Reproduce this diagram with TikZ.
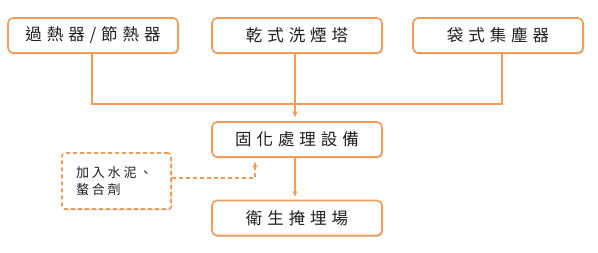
\documentclass[tikz,border=0pt]{standalone}
\usepackage{fontspec}
\newfontfamily\cjkbox[LetterSpace=30]{Noto Sans CJK TC}
\newfontfamily\cjknote[LetterSpace=22]{Noto Sans CJK TC}
\usetikzlibrary{arrows.meta,shadows}
\definecolor{flow}{RGB}{242,156,88}
\definecolor{ink}{RGB}{30,30,30}
\tikzset{
  stage/.style={draw=flow, line width=1.6pt, rounded corners=5pt, fill=white,
    minimum width=170pt, minimum height=35pt, inner sep=0pt,
    font=\cjkbox\fontsize{16.5}{19}\selectfont, text=ink,
    drop shadow={shadow xshift=1pt, shadow yshift=-1.5pt, opacity=.18, fill=black}},
  addbox/.style={draw=flow, line width=1.6pt, rounded corners=3pt, fill=white,
    dash pattern=on 4pt off 3pt, minimum width=109pt, minimum height=56pt,
    inner xsep=14pt, text width=81pt, align=left,
    font=\cjknote\fontsize{13}{17}\selectfont, text=ink,
    drop shadow={shadow xshift=1pt, shadow yshift=-1.5pt, opacity=.18, fill=black}},
  link/.style={draw=flow, line width=1.1pt},
  tip/.style={-{Stealth[length=6pt,width=5pt]}}
}
\begin{document}
\begin{tikzpicture}[x=1pt,y=-1pt]
  \useasboundingbox (0,0) rectangle (598,253);

  % sources
  \node[stage] (heater) at (93,35.5) {過熱器/節熱器};
  \node[stage] (scrubber) at (297,35.5) {乾式洗煙塔};
  \node[stage] (baghouse) at (498,35.5) {袋式集塵器};

  % treatment and disposal
  \node[stage] (solidify) at (297,139.5) {固化處理設備};
  \node[stage] (landfill) at (297,218) {衛生掩埋場};
  \node[addbox] (additive) at (116.5,181) {加入水泥、\\螯合劑};

  \coordinate (merge) at (297,104);
  \draw[link] ([xshift=-1pt]heater.south) |- (merge) -| ([xshift=4pt]baghouse.south);
  \draw[link,tip,shorten >=4pt] ([xshift=-2pt]scrubber.south) -- ([xshift=-2pt]solidify.north);
  \draw[link,tip,shorten >=3pt] ([xshift=-2pt]solidify.south) -- ([xshift=-2pt]landfill.north);
  \draw[link,tip,dash pattern=on 4pt off 3pt,shorten >=4pt]
    ([yshift=3pt]additive.east) -| ([xshift=-42pt]solidify.south);
\end{tikzpicture}
\end{document}
